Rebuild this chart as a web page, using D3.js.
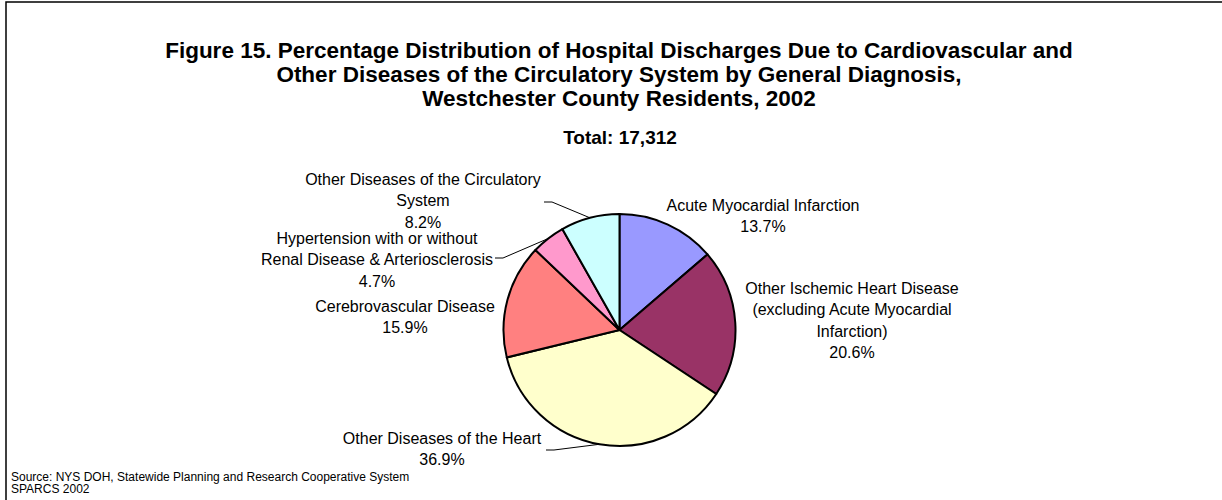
<!DOCTYPE html>
<html>
<head>
<meta charset="utf-8">
<script src="https://cdn.jsdelivr.net/npm/d3@7"></script>
<style>
  body { margin: 0; background: #fff; }
  svg text { font-family: "Liberation Sans", Arial, sans-serif; fill: #000; }
</style>
</head>
<body>
<svg id="chart" width="1222" height="500"></svg>
<script>
// Data
var categories = [
  "Acute Myocardial Infarction",
  "Other Ischemic Heart Disease (excluding Acute Myocardial Infarction)",
  "Other Diseases of the Heart",
  "Cerebrovascular Disease",
  "Hypertension with or without Renal Disease & Arteriosclerosis",
  "Other Diseases of the Circulatory System"
];
var percents = [13.7, 20.6, 36.9, 15.9, 4.7, 8.2];
var labelLines = [
  ["Acute Myocardial Infarction"],
  ["Other Ischemic Heart Disease", "(excluding Acute Myocardial", "Infarction)"],
  ["Other Diseases of the Heart"],
  ["Cerebrovascular Disease"],
  ["Hypertension with or without", "Renal Disease & Arteriosclerosis"],
  ["Other Diseases of the Circulatory", "System"]
];
var colors = ["#9999ff", "#993366", "#ffffcc", "#ff8080", "#ff99cc", "#ccffff"];
var titleLines = [
  "Figure 15. Percentage Distribution of Hospital Discharges Due to Cardiovascular and",
  "Other Diseases of the Circulatory System by General Diagnosis,",
  "Westchester County Residents, 2002"
];
var subtitle = "Total: 17,312";
var sourceLines = [
  "Source: NYS DOH, Statewide Planning and Research Cooperative System",
  "SPARCS 2002"
];

// Layout: label block centre (x) and first baseline (y), leader anchor side
var labelLayout = [
  { x: 763, y: 211, leader: null },
  { x: 852, y: 294, leader: null },
  { x: 442, y: 444, leader: { x: 546, y: 450 } },
  { x: 405, y: 312, leader: null },
  { x: 377, y: 244, leader: { x: 495, y: 258 } },
  { x: 423, y: 185, leader: { x: 544, y: 202 } }
];

var svg = d3.select("#chart");
var cx = 619.5, cy = 330, radius = 116;

// Frame
svg.append("rect")
   .attr("x", 6).attr("y", 2)
   .attr("width", 1230).attr("height", 510)
   .attr("fill", "none")
   .attr("stroke", "#000")
   .attr("stroke-width", 1.5);

// Title
svg.append("text")
   .attr("text-anchor", "middle")
   .attr("font-size", 22.5)
   .attr("font-weight", "bold")
   .selectAll("tspan")
   .data(titleLines)
   .enter().append("tspan")
   .attr("x", 619)
   .attr("y", function(d, i) { return 58 + i * 24; })
   .text(function(d) { return d; });

svg.append("text")
   .attr("x", 620).attr("y", 144)
   .attr("text-anchor", "middle")
   .attr("font-size", 19)
   .attr("font-weight", "bold")
   .text(subtitle);

// Pie
var pie = d3.pie().sort(null).value(function(d) { return d; });
var arcs = pie(percents);
var arc = d3.arc().innerRadius(0).outerRadius(radius);
var edge = d3.arc().innerRadius(radius).outerRadius(radius);

var g = svg.append("g").attr("transform", "translate(" + cx + "," + cy + ")");
g.selectAll("path")
 .data(arcs)
 .enter().append("path")
 .attr("d", arc)
 .attr("fill", function(d, i) { return colors[i]; })
 .attr("stroke", "#000")
 .attr("stroke-width", 2)
 .attr("stroke-linejoin", "round");

// Leader lines
arcs.forEach(function(d, i) {
  var L = labelLayout[i].leader;
  if (!L) return;
  var p = edge.centroid(d);
  var px = cx + p[0], py = cy + p[1];
  svg.append("polyline")
     .attr("points", [[L.x, L.y], [L.x + 8, L.y], [px, py]].map(function(q) { return q.join(","); }).join(" "))
     .attr("fill", "none")
     .attr("stroke", "#000")
     .attr("stroke-width", 1);
});

// Labels
arcs.forEach(function(d, i) {
  var lay = labelLayout[i];
  var lines = labelLines[i].concat([d3.format(".1f")(percents[i]) + "%"]);
  svg.append("text")
     .attr("text-anchor", "middle")
     .attr("font-size", 16)
     .selectAll("tspan")
     .data(lines)
     .enter().append("tspan")
     .attr("x", lay.x)
     .attr("y", function(t, j) { return lay.y + j * 21.3; })
     .text(function(t) { return t; });
});

// Source
svg.append("text")
   .attr("font-size", 12)
   .selectAll("tspan")
   .data(sourceLines)
   .enter().append("tspan")
   .attr("x", 11)
   .attr("y", function(d, i) { return 481 + i * 12; })
   .text(function(d) { return d; });
</script>
</body>
</html>
